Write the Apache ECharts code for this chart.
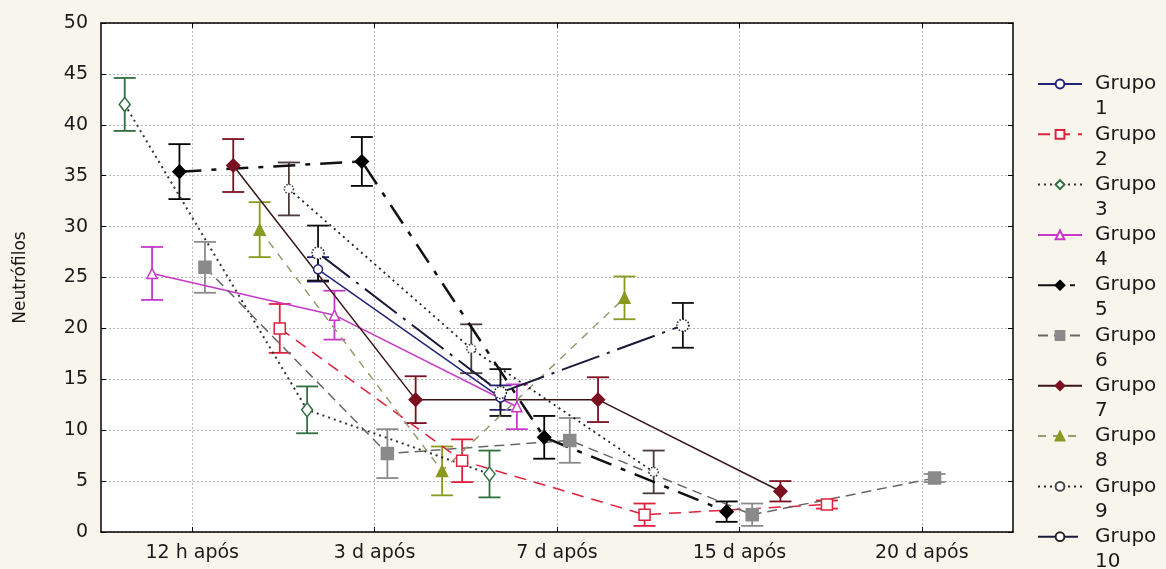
<!DOCTYPE html>
<html><head><meta charset="utf-8">
<script src="https://cdn.jsdelivr.net/npm/echarts@6/dist/echarts.min.js"></script>
<style>html,body{margin:0;padding:0;background:#f8f6ec}#c{width:1166px;height:569px}</style>
</head><body><div id="c"></div>
<script>
// ---- data ----
const categories = ['12 h após', '3 d após', '7 d após', '15 d após', '20 d após'];
const groupNames = ['Grupo 1','Grupo 2','Grupo 3','Grupo 4','Grupo 5','Grupo 6','Grupo 7','Grupo 8','Grupo 9','Grupo 10'];
// means per time point (null = not measured)
const grupo1  = [null, 25.8, 13.2, null, null];
const grupo2  = [20.0, 7.0, 1.7, 2.7, null];
const grupo3  = [42.0, 12.0, 5.7, null, null];
const grupo4  = [25.4, 21.3, 12.3, null, null];
const grupo5  = [35.4, 36.4, 9.3, 2.0, null];
const grupo6  = [26.0, 7.7, 9.0, 1.7, 5.3];
const grupo7  = [36.0, 13.0, 13.0, 4.0, null];
const grupo8  = [29.7, 6.0, 23.0, null, null];
const grupo9  = [null, 33.7, 18.0, 5.9, null];
const grupo10 = [null, 27.4, 13.7, 20.3, null];
// half-width of error bars
const erro1  = [null, 1.2, 1.2, null, null];
const erro2  = [2.4, 2.1, 1.1, 0.4, null];
const erro3  = [2.6, 2.3, 2.3, null, null];
const erro4  = [2.6, 2.4, 2.2, null, null];
const erro5  = [2.7, 2.4, 2.1, 1.0, null];
const erro6  = [2.5, 2.4, 2.2, 1.1, 0.4];
const erro7  = [2.6, 2.3, 2.2, 1.0, null];
const erro8  = [2.7, 2.4, 2.1, null, null];
const erro9  = [null, 2.6, 2.4, 2.1, null];
const erro10 = [null, 2.7, 2.3, 2.2, null];

const values = [grupo1,grupo2,grupo3,grupo4,grupo5,grupo6,grupo7,grupo8,grupo9,grupo10];
const errors = [erro1,erro2,erro3,erro4,erro5,erro6,erro7,erro8,erro9,erro10];

// ---- styles (horizontal jitter offset in category units) ----
const styles = [
  {off:-0.31, color:'#23237a', fill:'#ffffff', symbol:'circle',  size:9,  line:{type:'solid', width:1.5, color:'#23237a'}, err:'#23237a'},
  {off: 0.48, color:'#e0203c', fill:'#ffffff', symbol:'rect',    size:11, line:{type:[12,8], width:1.5, color:'#e0203c'}, err:'#e0203c'},
  {off:-0.37, color:'#2f7040', fill:'#ffffff', symbol:'diamond', size:[11,14], line:{type:[2,4], width:2, color:'#333333'}, err:'#2f7040'},
  {off:-0.22, color:'#c838c8', fill:'#ffffff', symbol:'triangle',size:10, line:{type:'solid', width:1.5, color:'#c838c8'}, err:'#c838c8'},
  {off:-0.07, color:'#000000', fill:'#000000', symbol:'diamond', size:[13,13], line:{type:[22,10,5,10], width:2.5, color:'#111111'}, err:'#000000'},
  {off: 0.07, color:'#8a8a8a', fill:'#8a8a8a', symbol:'rect',    size:12, line:{type:[10,6], width:1.5, color:'#666666'}, err:'#8a8a8a'},
  {off: 0.225,color:'#7a1020', fill:'#7a1020', symbol:'diamond', size:[13,13], line:{type:'solid', width:1.5, color:'#3a1515'}, err:'#7a1020'},
  {off: 0.37, color:'#8a9a20', fill:'#8a9a20', symbol:'triangle',size:11, line:{type:[8,7], width:1.5, color:'#9a9a70'}, err:'#8a9a20'},
  {off:-0.47, color:'#444444', fill:'#ffffff', symbol:'circle',  size:9,  line:{type:[2,4], width:1.8, color:'#222222'}, err:'#4a3a3a', dotted:true},
  {off:-0.31, color:'#222222', fill:'#ffffff', symbol:'circle',  size:12, line:{type:[40,8,3,8], width:2, color:'#1a1a3a'}, err:'#111111', dotted:true}
];

const tickIdx = categories.map((_, i) => i);
const series = [];
styles.forEach((g, k) => {
  const pts = [], bars = [];
  values[k].forEach((v, i) => {
    if (v == null) return;
    const x = i + g.off;
    pts.push([x, v]);
    bars.push([x, v - errors[k][i], v + errors[k][i]]);
  });
  series.push({
    type: 'custom', name: 'err' + (k + 1), silent: true, z: 3,
    data: bars, encode: {x: 0, y: [1, 2]},
    renderItem: (params, api) => {
      const x = api.value(0);
      const a = api.coord([x, api.value(1)]), b = api.coord([x, api.value(2)]);
      const hw = 11, st = {stroke: g.err, lineWidth: 1.8};
      return {type: 'group', children: [
        {type: 'line', shape: {x1: a[0], y1: a[1], x2: b[0], y2: b[1]}, style: st},
        {type: 'line', shape: {x1: a[0]-hw, y1: a[1], x2: a[0]+hw, y2: a[1]}, style: st},
        {type: 'line', shape: {x1: b[0]-hw, y1: b[1], x2: b[0]+hw, y2: b[1]}, style: st}
      ]};
    }
  });
  series.push({
    type: 'line', name: groupNames[k], data: pts, z: 4,
    symbol: g.symbol, symbolSize: g.size, showAllSymbol: true,
    lineStyle: g.line,
    itemStyle: {color: g.fill, borderColor: g.color, borderWidth: 1.5, borderType: g.dotted ? 'dotted' : 'solid'}
  });
});

const axisLineStyle = {show: true, onZero: false, lineStyle: {color: '#000', width: 1.5}};
const gridLine = {show: true, lineStyle: {type: [2, 2], color: '#b8b8b8', width: 1}};
const font = 'DejaVu Sans';

const chart = echarts.init(document.getElementById('c'));
chart.setOption({
  backgroundColor: '#f8f6ec',
  animation: false,
  grid: {left: 101, right: 153, top: 23, bottom: 37, show: true, backgroundColor: '#ffffff', borderWidth: 0},
  legend: {
    data: groupNames, orient: 'vertical', left: 1037, top: 46.5, height: 600, padding: 0, itemGap: -24.7,
    itemWidth: 44, itemHeight: 11,
    formatter: n => '\u00a0\n' + n.replace(' ', '\n'),
    textStyle: {fontFamily: font, fontSize: 20, lineHeight: 25, color: '#1a1a1a', padding: [0, 0, 0, 8]}
  },
  xAxis: [
    {type: 'value', min: -0.5, max: 4.5, position: 'bottom',
     axisLine: axisLineStyle,
     axisTick: {show: true, inside: true, length: 5, customValues: tickIdx, lineStyle: {color: '#000'}},
     axisLabel: {customValues: tickIdx, formatter: v => categories[Math.round(v)], fontFamily: font, fontSize: 19, color: '#1a1a1a', margin: 12},
     splitLine: gridLine},
    {type: 'value', min: -0.5, max: 4.5, position: 'top',
     axisLine: axisLineStyle,
     axisTick: {show: true, inside: true, length: 5, customValues: tickIdx, lineStyle: {color: '#000'}},
     axisLabel: {show: false}, splitLine: {show: false}}
  ],
  yAxis: [
    {type: 'value', min: 0, max: 50, interval: 5, position: 'left',
     axisLine: axisLineStyle,
     axisTick: {show: true, inside: true, length: 5, lineStyle: {color: '#000'}},
     axisLabel: {fontFamily: font, fontSize: 19, color: '#1a1a1a', margin: 13},
     splitLine: gridLine,
     name: 'Neutrófilos', nameLocation: 'middle', nameRotate: 90, nameGap: 72,
     nameTextStyle: {fontFamily: font, fontSize: 17, color: '#1a1a1a'}},
    {type: 'value', min: 0, max: 50, interval: 5, position: 'right',
     axisLine: axisLineStyle,
     axisTick: {show: true, inside: true, length: 5, lineStyle: {color: '#000'}},
     axisLabel: {show: false}, splitLine: {show: false}}
  ],
  series: series
});
</script></body></html>
